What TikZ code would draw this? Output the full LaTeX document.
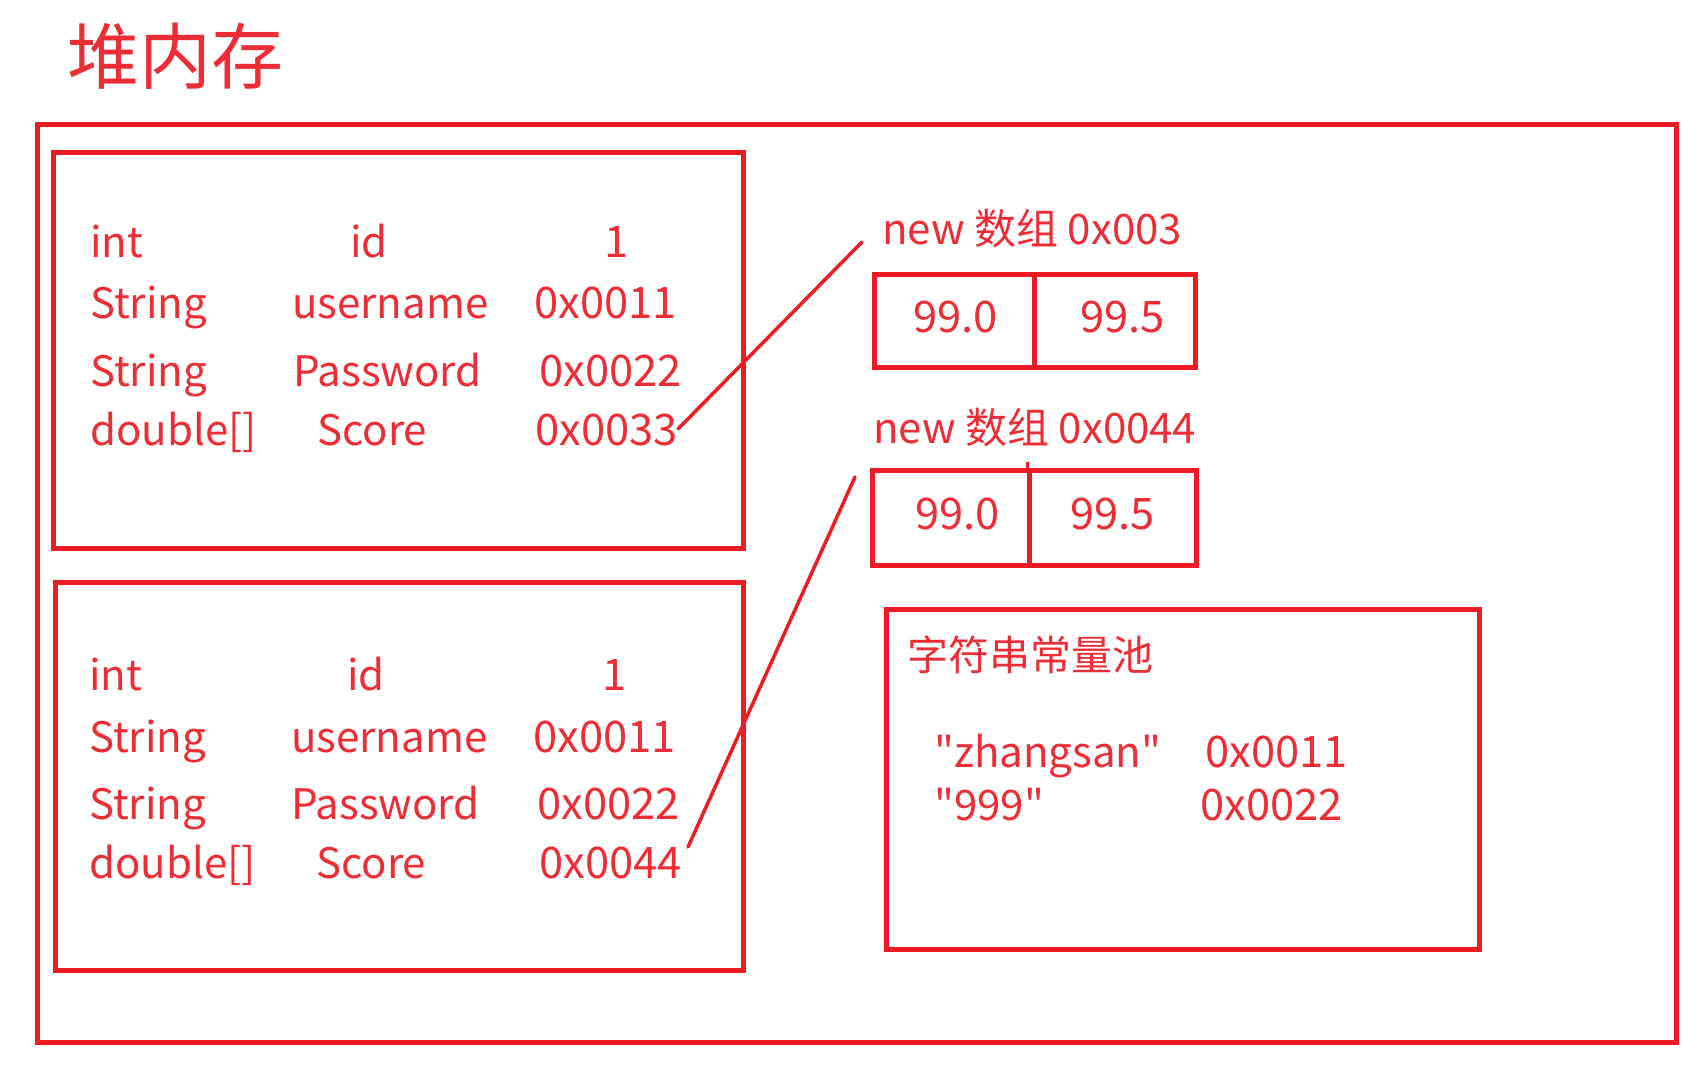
\documentclass[tikz,border=0pt]{standalone}
\usepackage{fontspec}
\setmainfont{Noto Sans CJK SC}[Ligatures=TeXOff]
\definecolor{pred}{HTML}{ED1C24}
\definecolor{tred}{HTML}{EC2D35}
\begin{document}
\begin{tikzpicture}[x=1pt,y=-1pt,
  box/.style={draw=pred,line width=5pt,anchor=north west,inner sep=0pt,minimum width=#1},
  txt/.style={text=tred,inner sep=0pt,anchor=base west,font=\fontsize{42}{48}\selectfont},
  num/.style={text=tred,inner sep=0pt,anchor=base west,font=\fontsize{43.5}{48}\selectfont},
  lbl/.style={text=tred,inner sep=0pt,anchor=base west,font=\fontsize{42}{48}\selectfont},
  link/.style={draw=pred,line width=3.5pt,line cap=round}]
\useasboundingbox[fill=white] (0,0) rectangle (1708,1084);

% title
\node[text=tred,inner sep=0pt,anchor=base west,font=\fontsize{72}{80}\selectfont] (title) at (67,83) {堆内存};

% boxes
\node[box=1639pt,minimum height=918pt] (heap) at (35,122) {};
\node[box=690pt,minimum height=396pt] (obj1) at (51,150) {};
\node[box=688pt,minimum height=388pt] (obj2) at (53,580) {};
\node[box=160pt,minimum height=93pt] (a1c1) at (872,272) {};
\node[box=161pt,minimum height=93pt] (a1c2) at (1032,272) {};
\node[box=157pt,minimum height=95pt] (a2c1) at (870,468) {};
\node[box=167pt,minimum height=95pt] (a2c2) at (1027,468) {};
\node[box=593pt,minimum height=340pt] (pool) at (884,607) {};
\coordinate (tick) at (1027,462);
\draw[draw=pred,line width=3pt] (tick) -- (a2c2.north west);

% object 1
\node[txt] (o1t1) at (90,257) {int};
\node[txt] (o1n1) at (350,257) {id};
\node[num] (o1v1) at (604,257) {1};
\node[txt] (o1t2) at (90,318) {String};
\node[txt] (o1n2) at (292,318) {username};
\node[num] (o1v2) at (534,318) {0x0011};
\node[txt] (o1t3) at (90,386) {String};
\node[txt] (o1n3) at (293,386) {Password};
\node[num] (o1v3) at (539,386) {0x0022};
\node[txt] (o1t4) at (90,445) {double[]};
\node[txt] (o1n4) at (317,445) {Score};
\node[num] (o1v4) at (535,445) {0x0033};

% object 2
\node[txt] (o2t1) at (89,690) {int};
\node[txt] (o2n1) at (347,690) {id};
\node[num] (o2v1) at (602,690) {1};
\node[txt] (o2t2) at (89,752) {String};
\node[txt] (o2n2) at (291,752) {username};
\node[num] (o2v2) at (533,752) {0x0011};
\node[txt] (o2t3) at (89,819) {String};
\node[txt] (o2n3) at (291,819) {Password};
\node[num] (o2v3) at (537,819) {0x0022};
\node[txt] (o2t4) at (89,878) {double[]};
\node[txt] (o2n4) at (316,878) {Score};
\node[num] (o2v4) at (539,878) {0x0044};

% arrays
\node[lbl] (arr1) at (882,244) {new 数组 0x003};
\node[num] (a1v1) at (913,332) {99.0};
\node[num] (a1v2) at (1080,332) {99.5};
\node[lbl] (arr2) at (873,443) {new 数组 0x0044};
\node[num] (a2v1) at (915,529) {99.0};
\node[num] (a2v2) at (1070,529) {99.5};

% string pool
\node[text=tred,inner sep=0pt,anchor=base west,font=\fontsize{41}{48}\selectfont] (poolt) at (907,670) {字符串常量池};
\node[txt] (s1) at (934,767) {"zhangsan"};
\node[num] (s1a) at (1205,767) {0x0011};
\node[txt] (s2) at (934,820) {"999"};
\node[num] (s2a) at (1200,820) {0x0022};

% connectors
\coordinate (e1) at (862,242);
\coordinate (e2) at (855,477);
\coordinate (p1) at (678,429);
\coordinate (p2) at (688,847);
\draw[link] (p1) -- (e1);
\draw[link] (p2) -- (e2);
\end{tikzpicture}
\end{document}
